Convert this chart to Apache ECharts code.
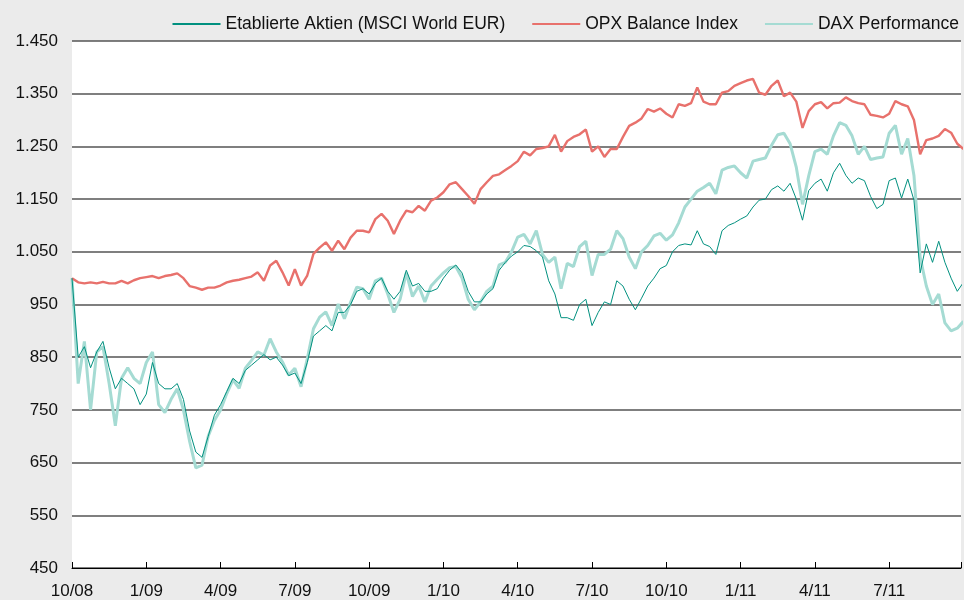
<!DOCTYPE html>
<html>
<head>
<meta charset="utf-8">
<script src="https://cdn.jsdelivr.net/npm/echarts@6/dist/echarts.min.js"></script>
<style>
html,body{margin:0;padding:0;background:#ebebeb;}
#chart{width:964px;height:600px;}
</style>
</head>
<body>
<div id="chart"></div>
<script>
// Weekly readings (one value per quarter-month) starting October 2008
const stepMonths = 0.25;
const tickLabels = ['10/08','1/09','4/09','7/09','10/09','1/10','4/10','7/10','10/10','1/11','4/11','7/11'];
const seriesNames = ['Etablierte Aktien (MSCI World EUR)', 'OPX Balance Index', 'DAX Performance'];

const msci = [
  1000,850,870,830,860,880,830,790,810,800,
  790,760,780,840,800,790,790,800,770,710,
  670,660,700,740,760,785,810,800,825,835,
  845,855,845,850,835,815,820,800,840,890,
  900,910,900,935,935,950,975,980,970,990,
  1000,975,960,975,1015,985,990,975,975,980,
  1000,1015,1025,1010,975,955,955,970,980,1015,
  1030,1042,1050,1062,1060,1052,1040,995,970,925,
  925,920,950,960,910,935,955,950,995,985,
  960,940,962,985,1000,1018,1024,1050,1062,1065,
  1063,1090,1065,1060,1045,1090,1100,1105,1112,1118,
  1135,1148,1150,1168,1175,1165,1180,1150,1110,1166,
  1180,1188,1165,1200,1218,1195,1180,1190,1185,1155,
  1132,1140,1185,1190,1152,1188,1148,1010,1065,1030,
  1070,1030,1000,975,992
];
const opx = [
  1000,992,990,992,990,993,990,990,995,990,
  996,1000,1002,1004,1000,1004,1006,1009,1000,985,
  982,978,982,982,986,992,995,997,1000,1003,
  1011,995,1024,1033,1011,986,1017,986,1005,1046,
  1058,1068,1052,1071,1055,1077,1090,1090,1087,1112,
  1122,1109,1084,1109,1128,1125,1137,1128,1147,1153,
  1163,1178,1182,1169,1156,1141,1169,1182,1194,1197,
  1205,1213,1222,1240,1233,1245,1247,1250,1272,1240,
  1260,1268,1273,1282,1240,1250,1230,1245,1245,1268,
  1289,1295,1303,1321,1316,1322,1312,1305,1330,1327,
  1332,1362,1335,1330,1330,1352,1355,1365,1370,1375,
  1378,1352,1348,1365,1375,1345,1352,1335,1285,1317,
  1330,1334,1322,1332,1333,1343,1336,1332,1330,1310,
  1308,1305,1312,1336,1330,1326,1300,1235,1262,1265,
  1270,1283,1276,1255,1245
];
const dax = [
  1000,800,880,750,860,870,800,720,810,830,
  810,800,840,860,760,745,770,790,750,690,
  640,645,700,730,750,781,807,791,829,844,
  860,854,885,860,841,816,829,794,847,904,
  926,936,910,951,923,954,983,980,960,995,
  1000,970,935,960,1010,965,985,955,985,998,
  1010,1020,1022,1000,960,940,955,975,985,1025,
  1030,1050,1078,1083,1065,1090,1045,1030,1040,980,
  1028,1022,1060,1070,1005,1045,1045,1055,1090,1075,
  1040,1018,1050,1062,1080,1085,1072,1082,1105,1135,
  1150,1165,1172,1180,1160,1205,1210,1213,1200,1190,
  1222,1225,1228,1252,1272,1275,1255,1210,1140,1194,
  1240,1245,1235,1270,1295,1290,1270,1235,1250,1225,
  1228,1230,1275,1290,1235,1265,1195,1040,985,950,
  970,915,900,905,918
];

const toPairs = arr => arr.map((v, i) => [i * stepMonths, v]);
const font = 'Arial, "Liberation Sans", sans-serif';

const chart = echarts.init(document.getElementById('chart'), null, {renderer: 'canvas'});
chart.setOption({
  animation: false,
  backgroundColor: '#ebebeb',
  grid: {left: 72, right: 0, top: 41, bottom: 30, show: true, backgroundColor: '#ffffff', borderWidth: 0},
  legend: {
    data: seriesNames,
    right: 0, top: 10,
    itemWidth: 48, itemHeight: 16, itemGap: 26,
    itemStyle: {opacity: 0},
    textStyle: {fontSize: 17.5, color: '#111', fontFamily: font}
  },
  xAxis: {
    type: 'value', min: 0, max: 35.9, interval: 3,
    axisLine: {lineStyle: {color: '#000', width: 1}},
    axisTick: {inside: true, length: 6, lineStyle: {color: '#000'}},
    splitLine: {show: false},
    axisLabel: {
      color: '#111', fontSize: 17, fontFamily: font, margin: 15,
      formatter: v => { const k = Math.round(v / 3); return (Math.abs(v - k * 3) < 1e-6 && tickLabels[k]) ? tickLabels[k] : ''; }
    }
  },
  yAxis: {
    type: 'value', min: 450, max: 1450, interval: 100,
    axisLine: {show: false}, axisTick: {show: false},
    splitLine: {lineStyle: {color: '#555', width: 1.5}},
    axisLabel: {
      color: '#111', fontSize: 17, fontFamily: font, margin: 14,
      formatter: v => v >= 1000 ? Math.floor(v / 1000) + '.' + String(v % 1000).padStart(3, '0') : String(v)
    }
  },
  series: [
    {name: seriesNames[0], type: 'line', data: toPairs(msci), symbol: 'none', z: 4,
     lineStyle: {color: '#00907f', width: 1}, itemStyle: {color: '#00907f'}},
    {name: seriesNames[1], type: 'line', data: toPairs(opx), symbol: 'none', z: 3,
     lineStyle: {color: '#e8716c', width: 2.4}, itemStyle: {color: '#e8716c'}},
    {name: seriesNames[2], type: 'line', data: toPairs(dax), symbol: 'none', z: 2,
     lineStyle: {color: '#a5dbd3', width: 3}, itemStyle: {color: '#a5dbd3'}}
  ]
});
</script>
</body>
</html>
